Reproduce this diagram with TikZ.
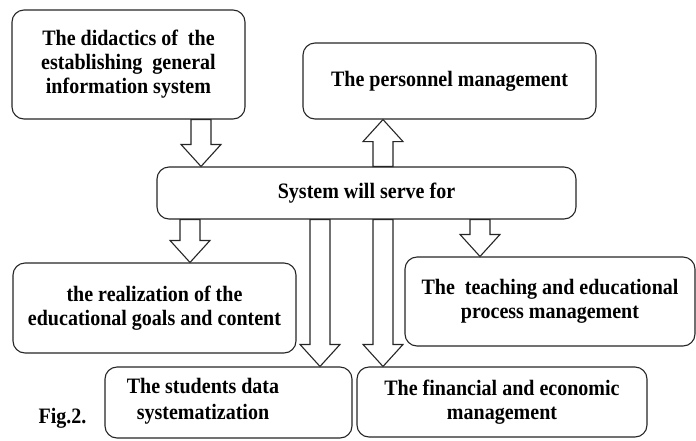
\documentclass[tikz,border=0pt]{standalone}
\usepackage{fontspec}
\setmainfont{Liberation Serif}[FakeStretch=0.91]
\usetikzlibrary{calc}
\tikzset{
  box/.style={draw=black!85, line width=1.1pt, rounded corners=12pt, fill=white,
    align=center, inner sep=0pt},
  lbl/.style={align=center, inner sep=0pt, font=\txtfont},
  blockarr/.style={draw=black!85, line width=1.1pt, fill=white, line join=miter},
}
\newcommand\txtfont{\fontsize{22}{24}\selectfont\bfseries}
% block arrow from #1 to #2 (same x)
\newcommand\barrow[2]{%
  \path[blockarr] let \p1=(#1), \p2=(#2), \n1={sign(\y2-\y1)} in
    (\x1-10pt,\y1) -- (\x1-10pt,\y2-\n1*22pt) -- (\x1-20pt,\y2-\n1*22pt)
    -- (\x2,\y2) -- (\x1+20pt,\y2-\n1*22pt) -- (\x1+10pt,\y2-\n1*22pt)
    -- (\x1+10pt,\y1) -- cycle;}
\begin{document}
\begin{tikzpicture}[x=1pt,y=-1pt]
\useasboundingbox (0,0) rectangle (696,440);
\node[box, minimum width=233pt, minimum height=109pt, font=\txtfont] (did) at (128.5,64.5)
  {The didactics of\ \ the\\ establishing\ \ general\\ information system};
\node[box, minimum width=293pt, minimum height=76pt, font=\txtfont] (pers) at (449.5,81)
  {The personnel management};
\node[box, minimum width=419pt, minimum height=52pt, font=\txtfont] (sys) at (366.5,193)
  {System will serve for};
\node[box, minimum width=283pt, minimum height=90pt, font=\txtfont] (real) at (154.5,308)
  {the realization of the\\ educational goals and content};
\node[box, minimum width=290pt, minimum height=89pt, font=\txtfont] (teach) at (550,301.5)
  {The\ \ teaching and educational\\ process management};
\node[box, minimum width=247pt, minimum height=71pt] (stud) at (228.5,402.5) {};
\node[lbl] (studtext) at (203,401) {The students data\\[2pt] systematization};
\node[box, minimum width=290pt, minimum height=70pt, font=\txtfont] (fin) at (502,402)
  {The financial and economic\\ management};
\node[lbl, anchor=base] (fig) at (62.5,423) {Fig.2.};
% arrow x positions
\coordinate (xa) at (201,0);
\coordinate (xb) at (383,0);
\coordinate (xc) at (190,0);
\coordinate (xd) at (320,0);
\coordinate (xe) at (383,0);
\coordinate (xf) at (480,0);
\barrow{did.south -| xa}{sys.north -| xa}
\barrow{sys.north -| xb}{pers.south -| xb}
\barrow{sys.south -| xc}{real.north -| xc}
\barrow{sys.south -| xd}{stud.north -| xd}
\barrow{sys.south -| xe}{fin.north -| xe}
\barrow{sys.south -| xf}{teach.north -| xf}
\end{tikzpicture}
\end{document}
